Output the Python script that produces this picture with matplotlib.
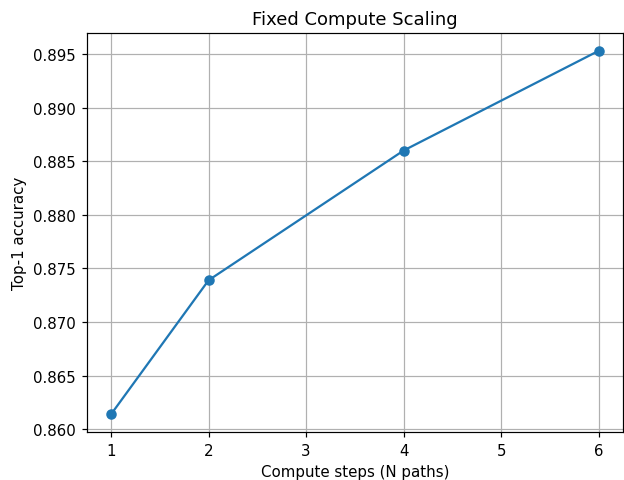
import matplotlib
matplotlib.use("Agg")
import matplotlib.pyplot as plt

steps = [1, 2, 4, 6]
accuracy = [0.8614, 0.8739, 0.8860, 0.8953]

DPI = 108
fig = plt.figure(figsize=(624 / DPI, 481 / DPI), dpi=DPI)
ax = fig.add_axes([0.139, 0.099, 0.8594, 0.831])
ax.plot(steps, accuracy, marker='o')
ax.set_title("Fixed Compute Scaling")
ax.set_xlabel("Compute steps (N paths)")
ax.set_ylabel("Top-1 accuracy")
ax.grid(True)
fig.savefig("out.png", dpi=DPI)
